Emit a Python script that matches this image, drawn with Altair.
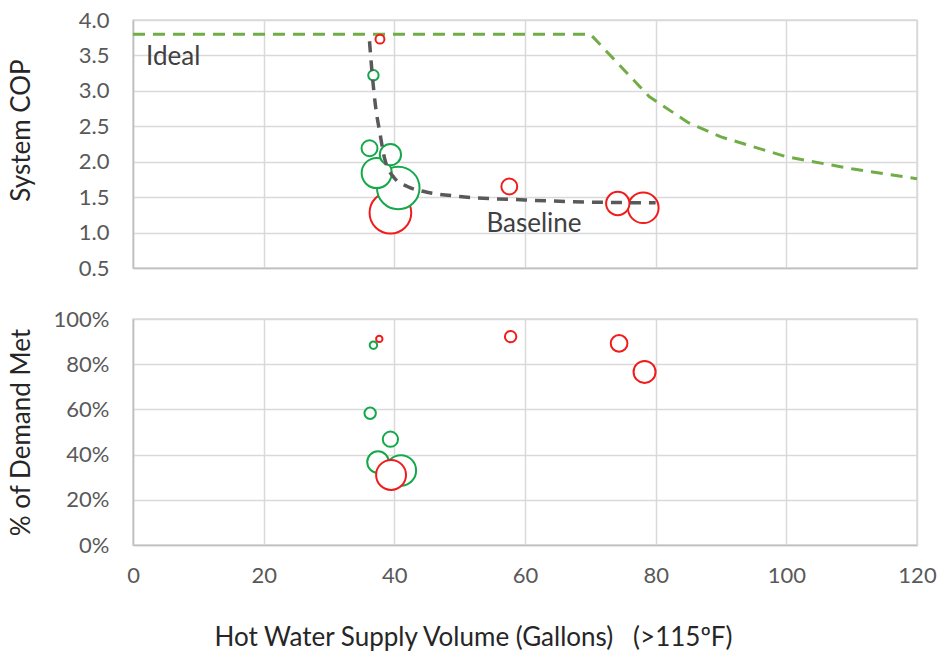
import altair as alt
import pandas as pd

# ---- data ----
# Ideal COP curve (green dashed)
ideal_x = [0, 70, 79, 85, 90, 100, 110, 120]
ideal_y = [3.8, 3.8, 2.92, 2.55, 2.35, 2.07, 1.9, 1.76]

# Baseline COP curve (gray dashed)
base_x = [36.2, 36.6, 37.1, 37.8, 38.5, 40, 42, 45, 50, 60, 70, 80]
base_y = [3.7, 3.25, 2.8, 2.4, 2.05, 1.77, 1.65, 1.57, 1.51, 1.46, 1.43, 1.42]

# Bubbles
bub_series = ["red", "green", "green", "green", "green", "green", "red", "red", "red", "red"]
bub_volume = [37.8, 36.8, 36.2, 39.4, 37.3, 40.6, 39.4, 57.6, 74.2, 78.1]
bub_cop = [3.73, 3.22, 2.19, 2.10, 1.84, 1.63, 1.28, 1.65, 1.41, 1.35]
bub_demand_vol = [37.7, 36.8, 36.3, 39.4, 37.5, 41.0, 39.5, 57.8, 74.4, 78.3]
bub_demand = [0.912, 0.884, 0.583, 0.468, 0.367, 0.330, 0.310, 0.922, 0.892, 0.766]
bub_size = [0.22, 0.3, 0.7, 1.25, 2.5, 5.0, 4.8, 0.7, 1.5, 2.6]

x_ticks = [0, 20, 40, 60, 80, 100, 120]
cop_ticks = [0.5, 1.0, 1.5, 2.0, 2.5, 3.0, 3.5, 4.0]
pct_ticks = [0, 0.2, 0.4, 0.6, 0.8, 1.0]

FONT = "Lato"
GRID = "#d9d9d9"
LABEL = "#595959"
TITLE = "#262626"

ideal_df = pd.DataFrame({"x": ideal_x, "y": ideal_y})
base_df = pd.DataFrame({"x": base_x, "y": base_y})
top_bub_df = pd.DataFrame({"series": bub_series, "x": bub_volume, "y": bub_cop, "size": bub_size})
bot_bub_df = pd.DataFrame({"series": bub_series, "x": bub_demand_vol, "y": bub_demand, "size": bub_size})
# drawing order: top -> red behind green ; bottom -> green behind red
top_bub_df["ord"] = [(0 if s == "red" else 10) - z for s, z in zip(bub_series, bub_size)]
bot_bub_df["ord"] = [(10 if s == "red" else 0) - z for s, z in zip(bub_series, bub_size)]

color_scale = alt.Scale(domain=["red", "green"], range=["#F21B1B", "#14A84A"])

W = 784
H_TOP = 248
H_BOT = 226

common_axis = dict(grid=True, gridColor=GRID, gridWidth=1.5,
                   domainColor="#bfbfbf", domainWidth=1.5)

x_top = alt.X("x:Q", scale=alt.Scale(domain=[0, 120], nice=False),
              axis=alt.Axis(values=x_ticks, labels=False, ticks=False, title=None,
                            labelPadding=0, **common_axis))
y_top = alt.Y("y:Q", scale=alt.Scale(domain=[0.5, 4.0], nice=False, zero=False),
              axis=alt.Axis(values=cop_ticks, format=".1f", title="System COP",
                            ticks=False, labelPadding=24, labelFontSize=22, labelColor=LABEL,
                            labelFont=FONT, labelOverlap=False, labelBound=False, labelFlush=False,
                            titleFont=FONT, titleFontSize=26,
                            titleFontWeight="normal", titleColor=TITLE,
                            titleX=-112, titleY=110, titleBaseline="middle",
                            **common_axis))

ideal = alt.Chart(ideal_df).mark_line(color="#70AD47", strokeWidth=3, strokeDash=[12, 8]).encode(
    x=x_top, y=y_top)
baseline = alt.Chart(base_df).mark_line(color="#595959", strokeWidth=3.5, strokeDash=[11, 8],
                                        interpolate="monotone").encode(x=x_top, y=y_top)

bub_top = alt.Chart(top_bub_df).mark_point(shape="circle", filled=False, fill="white", fillOpacity=1,
                                           strokeWidth=2, opacity=1).encode(
    x=x_top, y=y_top,
    size=alt.Size("size:Q", scale=alt.Scale(domain=[0, 5], range=[0, 1810], zero=True), legend=None),
    stroke=alt.Stroke("series:N", scale=color_scale, legend=None),
    order=alt.Order("ord:Q"),
)

labels_df = pd.DataFrame({"x": [2.0, 54.1], "y": [3.48, 1.12], "t": ["Ideal", "Baseline"]})
labels = alt.Chart(labels_df).mark_text(align="left", baseline="middle", font=FONT,
                                        fontSize=26, color="#404040").encode(
    x=x_top, y=y_top, text="t:N")

top = alt.layer(ideal, bub_top, baseline, labels).properties(width=W, height=H_TOP)

x_bot = alt.X("x:Q", scale=alt.Scale(domain=[0, 120], nice=False),
              axis=alt.Axis(values=x_ticks, ticks=False, labelPadding=20, labelFontSize=22,
                            labelColor=LABEL, labelFont=FONT, labelFlush=False, labelOverlap=False,
                            labelBound=False,
                            title="Hot Water Supply Volume (Gallons)\u00a0\u00a0\u00a0(>115ºF)",
                            titleFont=FONT, titleFontSize=26, titleFontWeight="normal",
                            titleColor=TITLE, titleX=340, titleY=92, titleBaseline="middle",
                            titleAnchor="middle", **common_axis))
y_bot = alt.Y("y:Q", scale=alt.Scale(domain=[0, 1], nice=False),
              axis=alt.Axis(values=pct_ticks, format=".0%", title="% of Demand Met",
                            ticks=False, labelPadding=24, labelFontSize=22, labelColor=LABEL,
                            labelFont=FONT, labelOverlap=False, labelBound=False, labelFlush=False,
                            titleFont=FONT, titleFontSize=26,
                            titleFontWeight="normal", titleColor=TITLE,
                            titleX=-112, titleBaseline="middle", **common_axis))

bottom = alt.Chart(bot_bub_df).mark_point(shape="circle", filled=False, fill="white", fillOpacity=1,
                                          strokeWidth=2, opacity=1).encode(
    x=x_bot, y=y_bot,
    size=alt.Size("size:Q", scale=alt.Scale(domain=[0, 5], range=[0, 930], zero=True), legend=None),
    stroke=alt.Stroke("series:N", scale=color_scale, legend=None),
    order=alt.Order("ord:Q"),
).properties(width=W, height=H_BOT)

chart = alt.vconcat(top, bottom, spacing=27).resolve_scale(
    x="independent", y="independent", size="independent").properties(
    padding={"left": 7, "top": 8, "right": 0, "bottom": 0},
    background="white",
).configure_view(stroke=GRID, strokeWidth=1.5).configure_axis(labelOverlap=False)

chart.save("out.html", embed_options={"renderer": "svg", "actions": False})
